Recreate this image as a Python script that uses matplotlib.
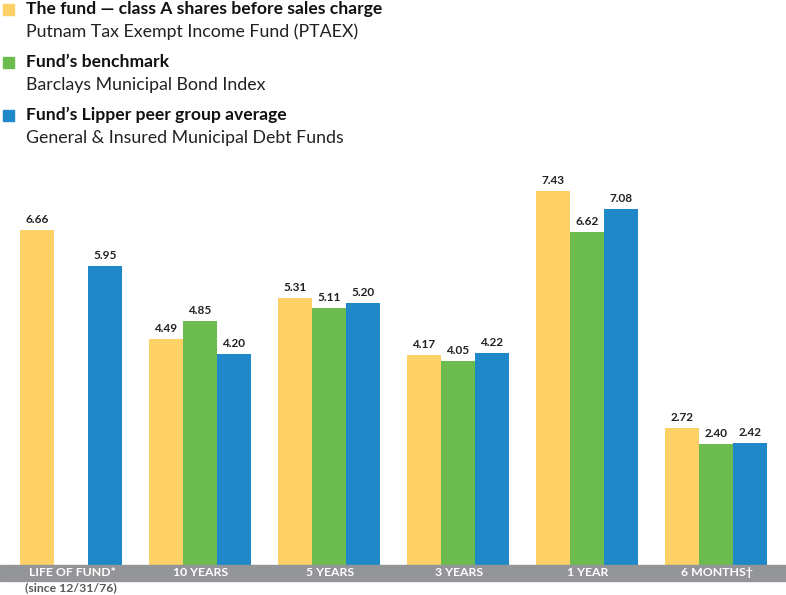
import numpy as np
import matplotlib
matplotlib.use("Agg")
import matplotlib.pyplot as plt
from matplotlib.patches import Rectangle

categories = ["LIFE OF FUND*", "10 YEARS", "5 YEARS", "3 YEARS", "1 YEAR", "6 MONTHS\u2020"]
fund = [6.66, 4.49, 5.31, 4.17, 7.43, 2.72]
benchmark = [np.nan, 4.85, 5.11, 4.05, 6.62, 2.40]
lipper = [5.95, 4.20, 5.20, 4.22, 7.08, 2.42]

legend_titles = ["The fund \u2014 class A shares before sales charge",
                 "Fund\u2019s benchmark",
                 "Fund\u2019s Lipper peer group average"]
legend_subs = ["Putnam Tax Exempt Income Fund (PTAEX)",
               "Barclays Municipal Bond Index",
               "General & Insured Municipal Debt Funds"]

colors = ["#FDD166", "#6CBB4E", "#1E88C9"]
W, H = 786, 595
plt.rcParams['font.family'] = ['Lato', 'DejaVu Sans']

fig = plt.figure(figsize=(W / 100, H / 100), dpi=100)

# axes placed in pixel terms: baseline at y=565, 50.3 px per unit
base_px = 565
ppu = 50.3
ymax = 8
ax = fig.add_axes([0, 1 - base_px / H, 1, ymax * ppu / H])
ax.set_xlim(-71 / 129, (W - 71) / 129)
ax.set_ylim(0, ymax)
ax.axis("off")

x = np.arange(len(categories))
bw = 34 / 129
for k, series in enumerate([fund, benchmark, lipper]):
    xs = x + (k - 1) * bw
    vals = np.array(series, dtype=float)
    ax.bar(xs, np.nan_to_num(vals), width=bw, color=colors[k], linewidth=0)
    for xi, v in zip(xs, vals):
        if not np.isnan(v):
            ax.text(xi, v + 0.1, f"{v:.2f}", ha="center", va="bottom",
                    fontsize=8.5, fontweight="bold", color="#222222")

# gray category band
fig.patches.append(Rectangle((0, 1 - 581 / H), 1, 16 / H, transform=fig.transFigure,
                             color="#939598", zorder=0))
for xi, lab in zip(x, categories):
    xf = (72 + 129 * xi) / W
    fig.text(xf, 1 - 573 / H, lab, ha="center", va="center", zorder=5,
             fontsize=8.8, fontweight="bold", color="white")
fig.text(25 / W, 1 - 588 / H, "(since 12/31/76)", ha="left", va="center",
         fontsize=8.8, fontweight="bold", color="#58595B")

# legend block
rows = [9, 62, 115]
for k in range(3):
    y0 = rows[k]
    fig.patches.append(Rectangle((3 / W, 1 - (y0 + 6) / H), 11 / W, 11 / H,
                                 transform=fig.transFigure, color=colors[k]))
    fig.text(26 / W, 1 - y0 / H, legend_titles[k], ha="left", va="center",
             fontsize=12.6, fontweight="bold", color="#111111")
    fig.text(26 / W, 1 - (y0 + 23) / H, legend_subs[k], ha="left", va="center",
             fontsize=12.8, color="#222222")

fig.savefig("out.png", dpi=100)
